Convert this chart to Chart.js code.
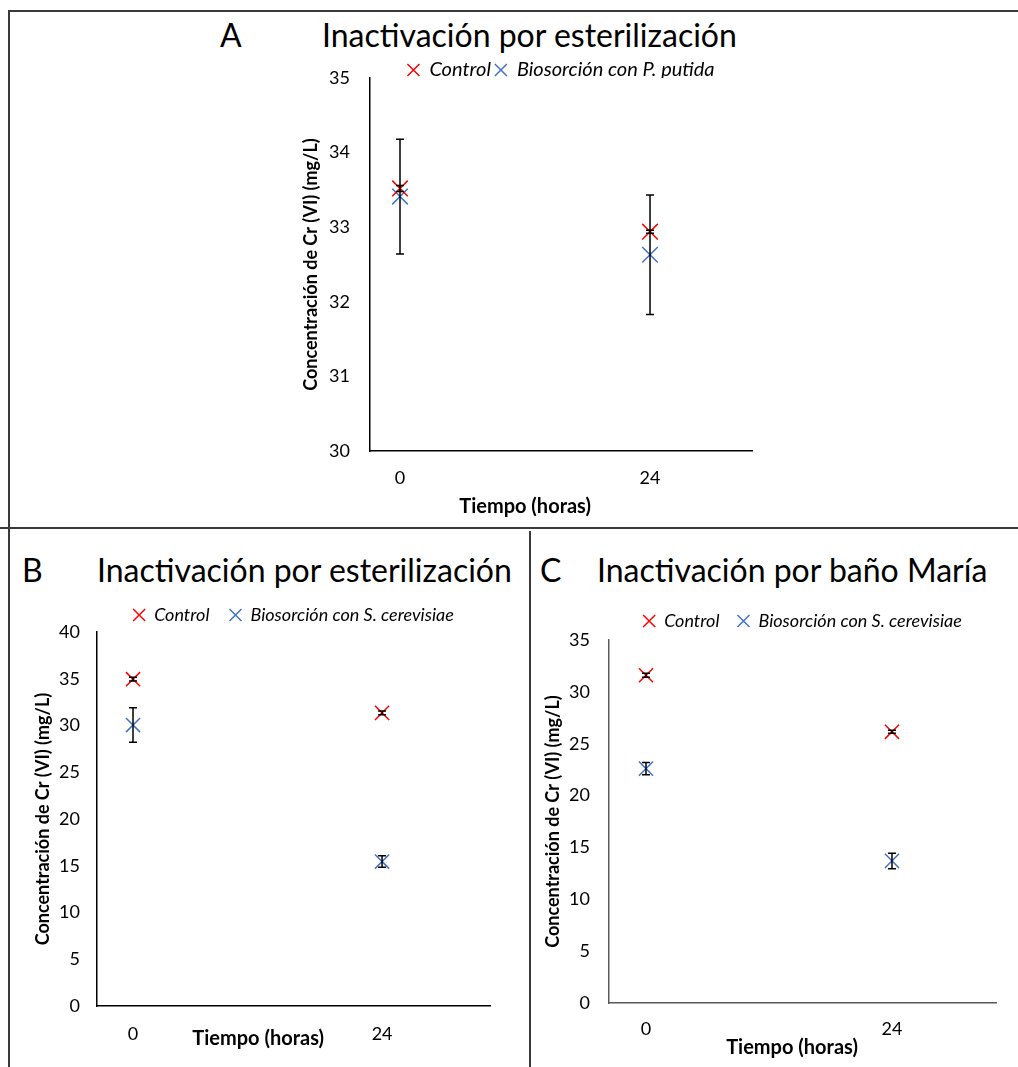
<!DOCTYPE html>
<html>
<head>
<meta charset="utf-8">
<script src="https://cdn.jsdelivr.net/npm/chart.js@4.4.1/dist/chart.umd.min.js"></script>
<style>
  body { margin: 0; background: #fff; width: 1018px; height: 1067px; position: relative; overflow: hidden; font-family: Lato, sans-serif; }
  canvas { position: absolute; }
  .line { position: absolute; background: #3a3a3a; }
  .ttl { position: absolute; font-size: 32px; line-height: 1; color: #000; white-space: nowrap; }
</style>
</head>
<body>
<div class="line" style="left:8px;top:10px;width:1010px;height:2px"></div>
<div class="line" style="left:8px;top:10px;width:2px;height:520px"></div>
<div class="line" style="left:0;top:527px;width:1018px;height:2px"></div>
<div class="line" style="left:8px;top:528px;width:2px;height:539px"></div>
<div class="line" style="left:529px;top:531px;width:1.5px;height:536px"></div>

<div class="ttl" style="left:220px;top:19px">A</div>
<div class="ttl" style="left:322px;top:19px">Inactivación por esterilización</div>
<div class="ttl" style="left:22px;top:554px">B</div>
<div class="ttl" style="left:97px;top:554px">Inactivación por esterilización</div>
<div class="ttl" style="left:540px;top:554px">C</div>
<div class="ttl" style="left:597px;top:554px">Inactivación por baño María</div>

<canvas id="chartA" width="1008" height="516" style="left:10px;top:11px"></canvas>
<canvas id="chartB" width="520" height="540" style="left:10px;top:527px"></canvas>
<canvas id="chartC" width="488" height="540" style="left:530px;top:527px"></canvas>

<script>
// tiempo (horas)
const horas = [0, 24];
const xTicks = [0, 24];

// A: esterilizacion, P. putida
const controlA = [33.52, 32.94];
const controlAErr = [0.04, 0.02];
const putidaA = [33.41, 32.63];
const putidaAErr = [0.77, 0.80];

// B: esterilizacion, S. cerevisiae
const controlB = [34.95, 31.35];
const controlBErr = [0.2, 0.2];
const cerevB = [30.05, 15.45];
const cerevBErr = [1.85, 0.62];

// C: bano Maria, S. cerevisiae
const controlC = [31.6, 26.15];
const controlCErr = [0.2, 0.15];
const cerevC = [22.6, 13.7];
const cerevCErr = [0.6, 0.75];

const RED = '#FF0000';
const BLUE = '#4472C4';
const FONT = 'Lato';
const yTitle = 'Concentración de Cr (VI) (mg/L)';

const pts = vals => vals.map((v, i) => ({x: horas[i], y: v}));

// error bars drawn through the scales
const errorBars = {
    id: 'errorBars',
    afterDatasetsDraw(chart) {
        const ctx = chart.ctx, xs = chart.scales.x, ys = chart.scales.y;
        ctx.save();
        ctx.strokeStyle = '#000';
        ctx.lineWidth = 1.5;
        chart.data.datasets.forEach(ds => {
            if (!ds.err) return;
            ds.data.forEach((p, i) => {
                const px = xs.getPixelForValue(p.x);
                const top = ys.getPixelForValue(p.y + ds.err[i]);
                const bot = ys.getPixelForValue(p.y - ds.err[i]);
                ctx.beginPath();
                ctx.moveTo(px, top); ctx.lineTo(px, bot);
                ctx.moveTo(px - 4, top); ctx.lineTo(px + 4, top);
                ctx.moveTo(px - 4, bot); ctx.lineTo(px + 4, bot);
                ctx.stroke();
            });
        });
        ctx.restore();
    }
};

// x axis title, placed like in the original (not centred)
const xTitle = {
    id: 'xTitle',
    afterDraw(chart, args, opts) {
        const ctx = chart.ctx, a = chart.chartArea;
        ctx.save();
        ctx.font = 'bold 20px ' + FONT;
        ctx.fillStyle = '#000';
        ctx.textAlign = 'center';
        ctx.textBaseline = 'middle';
        ctx.fillText(opts.text, a.left + opts.at * (a.right - a.left), a.bottom + opts.dy);
        ctx.restore();
    }
};

function makeConfig(p) {
    return {
        type: 'scatter',
        data: {
            datasets: [{
                label: 'Control',
                data: pts(p.control),
                err: p.controlErr,
                pointStyle: 'crossRot',
                pointRadius: p.radius,
                pointHoverRadius: p.radius,
                borderColor: RED,
                backgroundColor: RED,
                borderWidth: 1.5
            }, {
                label: p.bioLabel,
                data: pts(p.bio),
                err: p.bioErr,
                pointStyle: 'crossRot',
                pointRadius: p.radius,
                pointHoverRadius: p.radius,
                borderColor: BLUE,
                backgroundColor: BLUE,
                borderWidth: 1.5
            }]
        },
        options: {
            responsive: false,
            animation: false,
            layout: { padding: p.pad },
            scales: {
                x: {
                    type: 'linear',
                    min: p.xMin,
                    max: p.xMax,
                    afterBuildTicks: s => { s.ticks = xTicks.map(v => ({value: v})); },
                    afterFit: s => { s.height = p.xH; },
                    grid: { display: false, drawTicks: false },
                    border: { color: p.axisColor, width: 1.5 },
                    ticks: { padding: p.xTickPad, color: '#000', font: { family: FONT, size: 18 } }
                },
                y: {
                    min: p.yMin,
                    max: p.yMax,
                    afterFit: s => { s.width = p.yW; },
                    grid: { display: false, drawTicks: false },
                    border: { color: p.axisColor, width: 1.5 },
                    ticks: { stepSize: p.yStep, padding: p.yTickPad, color: '#000', font: { family: FONT, size: 18 } },
                    title: {
                        display: true,
                        text: yTitle,
                        color: '#000',
                        padding: { top: p.yTitlePad, bottom: 0 },
                        font: { family: FONT, size: 18, weight: 'bold' }
                    }
                }
            },
            plugins: {
                legend: {
                    position: 'top',
                    fullSize: false,
                    maxHeight: p.legendH,
                    labels: {
                        usePointStyle: true,
                        boxWidth: 12,
                        boxHeight: 12,
                        padding: p.legendPad,
                        color: '#000',
                        font: { family: FONT, size: p.legendFont, style: 'italic' }
                    }
                },
                tooltip: { enabled: false },
                xTitle: { text: 'Tiempo (horas)', at: p.xtAt, dy: p.xtDy }
            }
        },
        plugins: [errorBars, xTitle]
    };
}

const chartA = new Chart(document.getElementById('chartA'), makeConfig({
    control: controlA, controlErr: controlAErr,
    bio: putidaA, bioErr: putidaAErr,
    bioLabel: 'Biosorción con P. putida',
    radius: 11,
    xMin: -2.88, xMax: 33.79, yMin: 30, yMax: 35, yStep: 1,
    pad: { left: 280, right: 266, top: 45, bottom: 26 },
    xH: 50, yW: 80, xTickPad: 16, yTickPad: 20, yTitlePad: 10,
    legendH: 22, legendPad: 4, legendFont: 20,
    axisColor: '#000',
    xtAt: 0.406, xtDy: 56
}));

const chartB = new Chart(document.getElementById('chartB'), makeConfig({
    control: controlB, controlErr: controlBErr,
    bio: cerevB, bioErr: cerevBErr,
    bioLabel: 'Biosorción con S. cerevisiae',
    radius: 10,
    xMin: -3.47, xMax: 34.4, yMin: 0, yMax: 40, yStep: 5,
    pad: { left: 17, right: 40, top: 59, bottom: 21 },
    xH: 40, yW: 70, xTickPad: 17, yTickPad: 17, yTitlePad: 5,
    legendH: 46, legendPad: 20, legendFont: 18,
    axisColor: '#000',
    xtAt: 0.41, xtDy: 33
}));

const chartC = new Chart(document.getElementById('chartC'), makeConfig({
    control: controlC, controlErr: controlCErr,
    bio: cerevC, bioErr: cerevCErr,
    bioLabel: 'Biosorción con S. cerevisiae',
    radius: 10,
    xMin: -3.61, xMax: 34.15, yMin: 0, yMax: 35, yStep: 5,
    pad: { left: 9, right: 22, top: 67, bottom: 24 },
    xH: 40, yW: 70, xTickPad: 15, yTickPad: 19, yTitlePad: 3,
    legendH: 46, legendPad: 18, legendFont: 18,
    axisColor: '#595959',
    xtAt: 0.473, xtDy: 45
}));
</script>
</body>
</html>
